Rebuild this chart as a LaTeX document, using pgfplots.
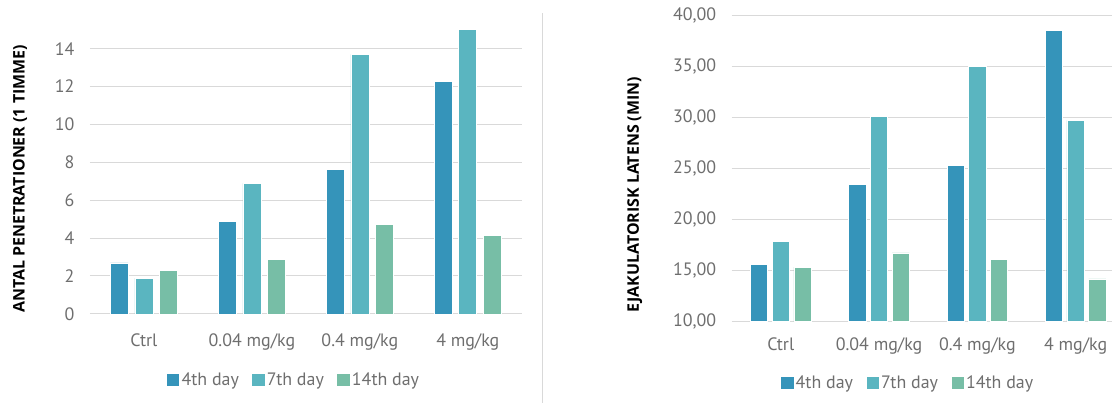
\documentclass[border=0pt]{standalone}
\usepackage{pgfplots}
\pgfplotsset{compat=1.18}
\usepackage{fontspec}
\setmainfont{PT Sans}
\newfontfamily\labfont{Open Sans}
\definecolor{cA}{RGB}{53,148,186}
\definecolor{cB}{RGB}{90,181,192}
\definecolor{cC}{RGB}{119,190,166}
\definecolor{tickc}{RGB}{110,110,110}
\definecolor{gridc}{RGB}{217,217,217}
\pgfplotsset{
  mybars/.style={
    scale only axis,
    xmin=-0.5,
    xtick={0,1,2,3},
    xticklabels={Ctrl,0.04 mg/kg,0.4 mg/kg,4 mg/kg},
    axis line style={draw=none},
    major tick length=0pt,
    ymajorgrids,
    grid style={gridc, line width=1bp},
    tick label style={font=\fontsize{18}{21}\selectfont, text=tickc},
    /pgf/number format/assume math mode=true,
    yticklabel style={xshift=-12bp},
    ylabel style={font=\labfont\bfseries\fontsize{16}{19}\selectfont, anchor=center},
    legend style={draw=none, fill=none, font=\fontsize{18}{21}\selectfont, text=tickc,
      legend columns=3, anchor=center, inner sep=0bp,
      nodes={inner sep=1.5bp},
      /tikz/every even column/.append style={column sep=12bp},
      /tikz/every odd column/.append style={column sep=1bp}},
    legend cell align=left,
  }
}
\begin{document}
\begin{tikzpicture}
\path (0bp,0bp) rectangle (1112bp,403bp);
\draw[gridc, line width=0.9bp] (543bp,0bp) -- (543bp,390bp);
% Left chart
\begin{axis}[mybars,
  at={(90bp,89bp)}, anchor=south west,
  width=432bp, height=284.3bp,
  xmax=3.5,
  ymin=0, ymax=15,
  ytick={0,2,...,14},
  xticklabel style={anchor=base, yshift=-33bp},
  ylabel={ANTAL PENETRATIONER (1 TIMME)},
  ylabel style={at={(axis description cs:-0.162,0.475)}},
  legend style={at={(axis description cs:0.472,-0.232)}},
]
\addplot[ybar, bar width=18bp, bar shift=-24.7bp, fill=cA, draw=white, line width=0.6bp,
  legend image code/.code={\fill[cA] (0bp,-5.8bp) rectangle (11.5bp,5.8bp);}]
  coordinates {(0,2.69) (1,4.89) (2,7.63) (3,12.26)};
\addplot[ybar, bar width=18bp, bar shift=0bp, fill=cB, draw=white, line width=0.6bp,
  legend image code/.code={\fill[cB] (0bp,-5.8bp) rectangle (11.5bp,5.8bp);}]
  coordinates {(0,1.88) (1,6.89) (2,13.70) (3,15.0)};
\addplot[ybar, bar width=18bp, bar shift=24.7bp, fill=cC, draw=white, line width=0.6bp,
  legend image code/.code={\fill[cC] (0bp,-5.8bp) rectangle (11.5bp,5.8bp);}]
  coordinates {(0,2.29) (1,2.87) (2,4.71) (3,4.15)};
\legend{4th day, 7th day, 14th day}
\end{axis}
% Right chart
\begin{axis}[mybars,
  at={(732bp,81.3bp)}, anchor=south west,
  width=380bp, height=306.4bp,
  xmax=3.365,
  ymin=10, ymax=40,
  ytick={10,15,...,40},
  yticklabel style={/pgf/number format/.cd, fixed, fixed zerofill, precision=2, use comma},
  xticklabel style={anchor=base, yshift=-29bp},
  ylabel={EJAKULATORISK LATENS (MIN)},
  ylabel style={at={(axis description cs:-0.255,0.414)}},
  legend style={at={(axis description cs:0.464,-0.2)}},
]
\addplot[ybar, bar width=17.3bp, bar shift=-21.7bp, fill=cA, draw=white, line width=0.6bp,
  legend image code/.code={\fill[cA] (0bp,-5.8bp) rectangle (11.5bp,5.8bp);}]
  coordinates {(0,15.59) (1,23.46) (2,25.29) (3,38.53)};
\addplot[ybar, bar width=17.3bp, bar shift=0bp, fill=cB, draw=white, line width=0.6bp,
  legend image code/.code={\fill[cB] (0bp,-5.8bp) rectangle (11.5bp,5.8bp);}]
  coordinates {(0,17.88) (1,30.13) (2,34.97) (3,29.71)};
\addplot[ybar, bar width=17.3bp, bar shift=21.7bp, fill=cC, draw=white, line width=0.6bp,
  legend image code/.code={\fill[cC] (0bp,-5.8bp) rectangle (11.5bp,5.8bp);}]
  coordinates {(0,15.33) (1,16.73) (2,16.05) (3,14.18)};
\legend{4th day, 7th day, 14th day}
\end{axis}
\end{tikzpicture}
\end{document}
